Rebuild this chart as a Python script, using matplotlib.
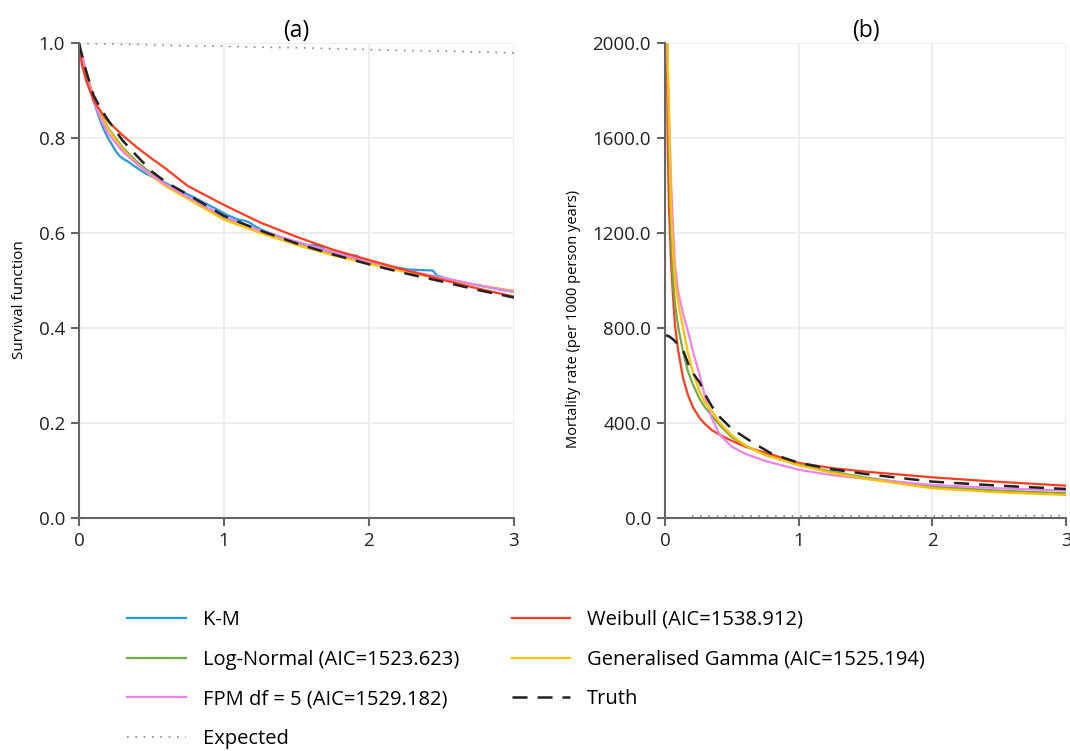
import matplotlib.pyplot as plt
import numpy as np

# survival curves, panel (a)
t_surv = [0, 0.02, 0.05, 0.1, 0.15, 0.2, 0.3, 0.4, 0.5, 0.6, 0.75, 1.0,
          1.25, 1.5, 1.75, 2.0, 2.25, 2.5, 2.75, 3.0]
s_weibull = [1.0, 0.955, 0.92, 0.88, 0.856, 0.835, 0.806, 0.78, 0.757, 0.735, 0.699, 0.659,
             0.622, 0.592, 0.565, 0.543, 0.522, 0.502, 0.483, 0.466]
s_lognorm = [1.0, 0.975, 0.94, 0.885, 0.85, 0.822, 0.78, 0.75, 0.725, 0.703, 0.676, 0.633,
             0.605, 0.58, 0.557, 0.537, 0.52, 0.505, 0.49, 0.477]
s_gengamma = [1.0, 0.975, 0.94, 0.885, 0.848, 0.82, 0.777, 0.746, 0.72, 0.698, 0.672, 0.628,
              0.6, 0.575, 0.553, 0.535, 0.518, 0.503, 0.49, 0.478]
s_fpm = [1.0, 0.975, 0.938, 0.88, 0.84, 0.81, 0.772, 0.745, 0.722, 0.702, 0.676, 0.635,
         0.605, 0.582, 0.559, 0.54, 0.522, 0.506, 0.49, 0.476]
s_truth = [1.0, 0.975, 0.94, 0.89, 0.862, 0.838, 0.795, 0.762, 0.73, 0.707, 0.681, 0.636,
           0.605, 0.578, 0.555, 0.534, 0.515, 0.498, 0.48, 0.464]
s_expected = [1.0, 1.0, 0.999, 0.999, 0.998, 0.998, 0.997, 0.997, 0.996, 0.995, 0.994, 0.993,
              0.991, 0.99, 0.988, 0.986, 0.984, 0.983, 0.981, 0.979]

# Kaplan-Meier estimate
t_km = [0, 0.01, 0.02, 0.04, 0.06, 0.08, 0.1, 0.12, 0.14, 0.16, 0.18, 0.2, 0.22, 0.25,
        0.28, 0.31, 0.34, 0.38, 0.42, 0.46, 0.5, 0.55, 0.6, 0.66, 0.72, 0.8, 0.88, 0.95,
        1.02, 1.1, 1.14, 1.17, 1.2, 1.25, 1.33, 1.42, 1.5, 1.58, 1.62, 1.66, 1.7, 1.78,
        1.85, 1.88, 1.92, 1.94, 2.0, 2.08, 2.15, 2.2, 2.24, 2.28, 2.35, 2.44, 2.47, 2.55,
        2.65, 2.75, 2.85, 2.95, 3.0]
s_km = [1.0, 0.978, 0.962, 0.94, 0.918, 0.898, 0.878, 0.86, 0.842, 0.826, 0.812, 0.8,
        0.79, 0.774, 0.762, 0.755, 0.75, 0.741, 0.733, 0.725, 0.719, 0.712, 0.705, 0.695,
        0.686, 0.674, 0.661, 0.65, 0.638, 0.628, 0.626, 0.623, 0.617, 0.608, 0.598, 0.588,
        0.58, 0.574, 0.574, 0.573, 0.564, 0.557, 0.553, 0.553, 0.552, 0.546, 0.538, 0.532,
        0.528, 0.527, 0.525, 0.523, 0.522, 0.521, 0.51, 0.503, 0.496, 0.49, 0.484, 0.478,
        0.477]

# mortality rates per 1000 person years, panel (b)
t_haz = [0.005, 0.01, 0.02, 0.03, 0.045, 0.06, 0.075, 0.1, 0.135, 0.17, 0.21, 0.26, 0.3,
         0.35, 0.41, 0.5, 0.6, 0.75, 1.0, 1.25, 1.5, 2.0, 2.5, 3.0]
h_weibull = [3200, 2230, 1580, 1300, 1080, 930, 810, 700, 590, 520, 465, 420, 395,
             370, 350, 325, 300, 275, 232, 210, 195, 171, 152, 136]
h_lognorm = [2600, 2300, 1900, 1550, 1180, 1000, 900, 800, 700, 620, 560, 500, 465,
             430, 390, 340, 305, 265, 225, 195, 170, 132, 115, 104]
h_gengamma = [2300, 2150, 1940, 1700, 1300, 1120, 1000, 900, 800, 700, 610, 530, 485,
              450, 400, 348, 305, 265, 222, 190, 165, 125, 108, 97]
h_fpm = [2250, 2100, 1900, 1700, 1420, 1220, 1060, 950, 860, 790, 700, 600, 510,
         420, 350, 300, 270, 240, 203, 180, 165, 139, 125, 115]
t_truth = [0, 0.03, 0.06, 0.1, 0.135, 0.19, 0.26, 0.3, 0.35, 0.41, 0.5, 0.66, 0.8,
           1.0, 1.25, 1.5, 2.0, 2.5, 3.0]
h_truth = [770, 765, 752, 730, 707, 625, 570, 520, 470, 425, 375, 316, 270,
           232, 205, 185, 153, 136, 122]
t_expected = [0.2, 1.0, 2.0, 3.0]
h_expected = [8, 8, 9, 10]

c_km = '#2a9ae0'
c_wei = '#ff3c1f'
c_lgn = '#70ad47'
c_gg = '#ffc000'
c_fpm = '#ee82ee'
c_truth = '#222222'
c_exp = '#888888'

plt.rcParams['font.family'] = ['Open Sans', 'DejaVu Sans']
fig = plt.figure(figsize=(10.7, 7.51), dpi=100)
ax1 = fig.add_axes([0.0738, 0.3103, 0.4065, 0.6325])
ax2 = fig.add_axes([0.6215, 0.3103, 0.3748, 0.6325])

lw = 1.6
ax1.plot(t_surv, s_expected, color=c_exp, lw=1.2, ls=(0, (1, 4)), label='Expected')
ax1.plot(t_km, s_km, color=c_km, lw=lw, label='K-M')
ax1.plot(t_surv, s_lognorm, color=c_lgn, lw=lw, label='Log-Normal (AIC=1523.623)')
ax1.plot(t_surv, s_gengamma, color=c_gg, lw=lw, label='Generalised Gamma (AIC=1525.194)')
ax1.plot(t_surv, s_fpm, color=c_fpm, lw=lw, label='FPM df = 5 (AIC=1529.182)')
ax1.plot(t_surv, s_weibull, color=c_wei, lw=lw, label='Weibull (AIC=1538.912)')
ax1.plot(t_surv, s_truth, color=c_truth, lw=1.8, dashes=(6, 4), label='Truth')

ax2.plot(t_expected, h_expected, color=c_exp, lw=1.2, ls=(0, (1, 4)))
ax2.plot(t_haz, h_weibull, color=c_wei, lw=lw)
ax2.plot(t_haz, h_lognorm, color=c_lgn, lw=lw)
ax2.plot(t_haz, h_fpm, color=c_fpm, lw=lw)
ax2.plot(t_haz, h_gengamma, color=c_gg, lw=lw)
ax2.plot(t_truth, h_truth, color=c_truth, lw=1.8, dashes=(6, 4))

for ax in (ax1, ax2):
    ax.set_xlim(0, 3)
    ax.set_xticks([0, 1, 2, 3])
    ax.grid(True, color='#ebebeb', lw=1.2)
    ax.set_axisbelow(True)
    for s in ('top', 'right'):
        ax.spines[s].set_visible(False)
    for s in ('left', 'bottom'):
        ax.spines[s].set_color('#666666')
        ax.spines[s].set_linewidth(1.5)
    ax.tick_params(direction='out', length=6, width=1.5, color='#666666',
                   labelsize=13.5, labelcolor='#222222', pad=4)

ax1.set_ylim(0, 1)
ax1.set_yticks(np.arange(0, 1.01, 0.2))
ax1.set_yticklabels(['%.1f' % v for v in np.arange(0, 1.01, 0.2)])
ax1.set_ylabel('Survival function', fontsize=11)
ax1.yaxis.set_label_coords(-0.12, 0.46)
ax1.set_title('(a)', fontsize=16.5, pad=4)

ax2.set_ylim(0, 2000)
ax2.set_yticks(np.arange(0, 2001, 400))
ax2.set_yticklabels(['%.1f' % v for v in np.arange(0, 2001, 400)])
ax2.set_ylabel('Mortality rate (per 1000 person years)', fontsize=10.5)
ax2.yaxis.set_label_coords(-0.21, 0.42)
ax2.set_title('(b)', fontsize=16.5, pad=4)

handles, labels = ax1.get_legend_handles_labels()
order = ['K-M', 'Log-Normal (AIC=1523.623)', 'FPM df = 5 (AIC=1529.182)', 'Expected',
         'Weibull (AIC=1538.912)', 'Generalised Gamma (AIC=1525.194)', 'Truth']
hmap = dict(zip(labels, handles))
fig.legend([hmap[k] for k in order], order, ncol=2, loc='upper left',
           bbox_to_anchor=(0.102, 0.212), frameon=False, fontsize=14.5,
           handlelength=2.9, handletextpad=0.85, labelspacing=0.98, columnspacing=2.6)

fig.savefig('out.png', dpi=100)
